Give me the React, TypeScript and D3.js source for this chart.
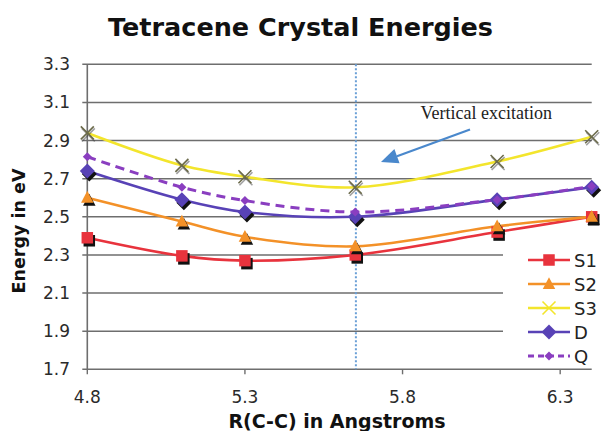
import React from "react";
import * as d3 from "d3";

const xValues = [4.8, 5.1, 5.3, 5.65, 6.1, 6.4];
const s1 = [2.39, 2.295, 2.27, 2.3, 2.42, 2.5];
const s2 = [2.6, 2.475, 2.395, 2.345, 2.45, 2.5];
const s3 = [2.94, 2.77, 2.71, 2.655, 2.79, 2.92];
const dVals = [2.74, 2.59, 2.525, 2.5, 2.59, 2.655];
const qVals = [2.815, 2.655, 2.585, 2.525, 2.59, 2.66];
const yTicks = [1.7, 1.9, 2.1, 2.3, 2.5, 2.7, 2.9, 3.1, 3.3];
const xTicks = [4.8, 5.3, 5.8, 6.3];
const verticalLineX = 5.652;

const seriesNames = ["S1", "S2", "S3", "D", "Q"];
const seriesData = [s1, s2, s3, dVals, qVals];
const seriesColors = ["#e8333d", "#f39128", "#f3e52c", "#5842b6", "#8a3ec0"];
const markerKinds = ["square", "triangle", "x", "diamond", "dot"];

const W = 606;
const H = 431;
const left = 87.3;
const right = 591.7;
const top = 64.3;
const bottom = 369.3;

function Marker({ kind, x, y, color, legend }: { kind: string; x: number; y: number; color: string; legend?: boolean }) {
  const sh = legend ? 0 : 1;
  if (kind === "square") {
    const s = 11.5;
    return (
      <g>
        {sh ? <rect x={x - s / 2 + 2} y={y - s / 2 + 3} width={s} height={s} fill="#111" /> : null}
        <rect x={x - s / 2} y={y - s / 2} width={s} height={s} fill={color} />
      </g>
    );
  }
  if (kind === "triangle") {
    const s = 12.5;
    const p = (dx: number, dy: number) =>
      `${x + dx},${y + dy - s * 0.55} ${x + dx - s / 2},${y + dy + s * 0.4} ${x + dx + s / 2},${y + dy + s * 0.4}`;
    return (
      <g>
        {sh ? <polygon points={p(2, 3)} fill="#111" /> : null}
        <polygon points={p(0, 0)} fill={color} />
      </g>
    );
  }
  if (kind === "diamond") {
    const s = 7.5;
    const p = (dx: number, dy: number) =>
      `${x + dx},${y + dy - s} ${x + dx + s},${y + dy} ${x + dx},${y + dy + s} ${x + dx - s},${y + dy}`;
    return (
      <g>
        {sh ? <polygon points={p(2, 3)} fill="#111" /> : null}
        <polygon points={p(0, 0)} fill={color} />
      </g>
    );
  }
  if (kind === "x") {
    const s = 6.5;
    const c = legend ? color : "#6b6a4a";
    return (
      <g stroke={c} strokeWidth={1.6}>
        {sh ? (
          <g stroke="#444" opacity={0.5}>
            <line x1={x - s + 1} y1={y - s + 2} x2={x + s + 1} y2={y + s + 2} />
            <line x1={x - s + 1} y1={y + s + 2} x2={x + s + 1} y2={y - s + 2} />
          </g>
        ) : null}
        <line x1={x - s} y1={y - s} x2={x + s} y2={y + s} />
        <line x1={x - s} y1={y + s} x2={x + s} y2={y - s} />
      </g>
    );
  }
  const s = 4.5;
  return (
    <polygon
      points={`${x},${y - s} ${x + s},${y} ${x},${y + s} ${x - s},${y}`}
      fill={color}
    />
  );
}

export default function App() {
  const xScale = d3.scaleLinear().domain([4.8, 6.4]).range([left, right]);
  const yScale = d3.scaleLinear().domain([1.7, 3.3]).range([bottom, top]);
  const line = d3
    .line<[number, number]>()
    .x((d) => xScale(d[0]))
    .y((d) => yScale(d[1]))
    .curve(d3.curveCatmullRom.alpha(0.5));

  const legendTop = 246;
  const legendRows = [260, 284, 308, 332, 356];
  const vx = xScale(verticalLineX);

  // arrow geometry
  const ax1 = 470, ay1 = 129.5, ax2 = 381, ay2 = 162;
  const ang = Math.atan2(ay2 - ay1, ax2 - ax1);
  const headLen = 17, headW = 7.5;
  const bx = ax2 - headLen * Math.cos(ang);
  const by = ay2 - headLen * Math.sin(ang);
  const nx = -Math.sin(ang), ny = Math.cos(ang);
  const headPts = `${ax2},${ay2} ${bx + nx * headW},${by + ny * headW} ${bx - nx * headW},${by - ny * headW}`;

  return (
    <svg width={W} height={H} style={{ position: "absolute", left: 0, top: 0, background: "#fff" }}>
      <rect x={0} y={0} width={W} height={H} fill="#fff" />
      <text x={300.5} y={36} textAnchor="middle" fontFamily="'DejaVu Sans', Verdana, sans-serif" fontWeight="bold" fontSize={25.5} fill="#111">
        Tetracene Crystal Energies
      </text>
      {yTicks.map((t) => (
        <line key={"g" + t} x1={left - 5} x2={right} y1={yScale(t)} y2={yScale(t)} stroke="#6e6e6e" strokeWidth={1.6} />
      ))}
      <line x1={left} x2={left} y1={top} y2={bottom} stroke="#6e6e6e" strokeWidth={1.6} />
      {xTicks.map((t) => (
        <line key={"xt" + t} x1={xScale(t)} x2={xScale(t)} y1={bottom} y2={bottom + 5} stroke="#6e6e6e" strokeWidth={1.4} />
      ))}
      {yTicks.map((t) => (
        <text key={"yl" + t} x={70} y={yScale(t) + 6} textAnchor="end" fontFamily="'DejaVu Sans', Verdana, sans-serif" fontSize={17} fill="#2a2a2a">
          {t.toFixed(1)}
        </text>
      ))}
      {xTicks.map((t) => (
        <text key={"xl" + t} x={xScale(t)} y={403} textAnchor="middle" fontFamily="'DejaVu Sans', Verdana, sans-serif" fontSize={17} fill="#2a2a2a">
          {t.toFixed(1)}
        </text>
      ))}
      <text x={337} y={428} textAnchor="middle" fontFamily="'DejaVu Sans', Verdana, sans-serif" fontWeight="bold" fontSize={19} fill="#111">
        R(C-C) in Angstroms
      </text>
      <text transform={`translate(25, 231) rotate(-90)`} textAnchor="middle" fontFamily="'DejaVu Sans', Verdana, sans-serif" fontWeight="bold" fontSize={17.5} fill="#111">
        Energy in eV
      </text>
      <line x1={vx} x2={vx} y1={top} y2={bottom} stroke="#6a9fd6" strokeWidth={2} strokeDasharray="2,2" />
      <text x={420.5} y={119} fontFamily="'Liberation Serif', 'Times New Roman', serif" fontSize={18} fill="#222">
        Vertical excitation
      </text>
      <line x1={ax1} y1={ay1} x2={bx} y2={by} stroke="#4a88cc" strokeWidth={2.2} />
      <polygon points={headPts} fill="#4a88cc" />
      <rect x={503} y={legendTop} width={W - 503} height={bottom - legendTop - 2} fill="#fff" />
      {seriesData.map((vals, i) => (
        <path
          key={"l" + i}
          d={line(xValues.map((x, j) => [x, vals[j]] as [number, number])) || ""}
          fill="none"
          stroke={seriesColors[i]}
          strokeWidth={i === 4 ? 3 : 2.6}
          strokeDasharray={i === 4 ? "9,6" : undefined}
        />
      ))}
      {seriesData.map((vals, i) =>
        xValues.map((x, j) => (
          <Marker key={"m" + i + "-" + j} kind={markerKinds[i]} x={xScale(x)} y={yScale(vals[j])} color={seriesColors[i]} />
        ))
      )}
      {seriesNames.map((name, i) => (
        <g key={"lg" + name}>
          <line
            x1={528}
            x2={570}
            y1={legendRows[i]}
            y2={legendRows[i]}
            stroke={seriesColors[i]}
            strokeWidth={i === 4 ? 3 : 2.6}
            strokeDasharray={i === 4 ? "6,4" : undefined}
          />
          <Marker kind={markerKinds[i]} x={549} y={legendRows[i]} color={seriesColors[i]} legend />
          <text x={574} y={legendRows[i] + 6.5} fontFamily="'DejaVu Sans', Verdana, sans-serif" fontSize={18} fill="#222">
            {name}
          </text>
        </g>
      ))}
    </svg>
  );
}
